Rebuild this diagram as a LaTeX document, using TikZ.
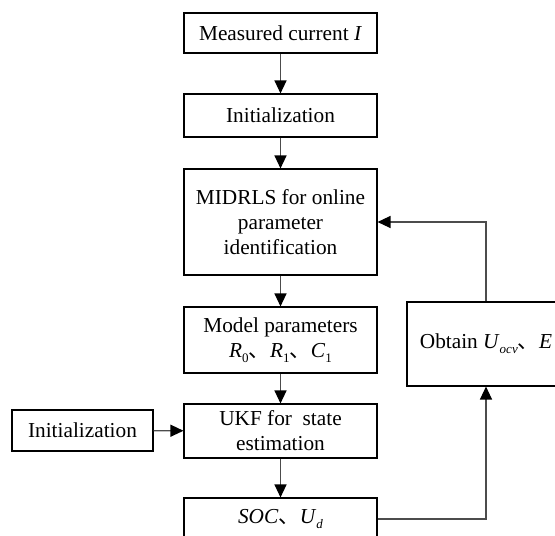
\documentclass[tikz,border=0pt]{standalone}
\usepackage{fontspec}
\setmainfont{Liberation Serif}
\newfontfamily\cjk{Noto Sans CJK SC}
\usetikzlibrary{arrows.meta}
\newcommand{\dunhao}{{\cjk 、}}
\newcommand{\subs}[1]{\raisebox{-5pt}{\fontsize{13}{13}\selectfont #1}}
\begin{document}
\begin{tikzpicture}[x=1pt,y=-1pt,
  box/.style={draw=black,line width=1.1pt,inner sep=0pt,align=center,font=\fontsize{21.3}{25}\selectfont},
  conn/.style={draw=black!70,line width=1.2pt,-{Triangle[length=13pt,width=12pt,color=black]}}]
\useasboundingbox (0,0) rectangle (555,536);
\clip (0,0) rectangle (555,536);
\node[box,minimum width=193pt,minimum height=40pt] (m1) at (280.5,33) {Measured current \textit{I}};
\node[box,minimum width=193pt,minimum height=43pt] (m2) at (280.5,115.5) {Initialization};
\node[box,minimum width=193pt,minimum height=106pt] (m3) at (280.5,222) {MIDRLS for online\\parameter\\identification};
\node[box,minimum width=193pt,minimum height=66pt] (m4) at (280.5,340) {Model parameters\\\textit{R}\subs{0}\dunhao\textit{R}\subs{1}\dunhao\textit{C}\subs{1}};
\node[box,minimum width=193pt,minimum height=54pt] (m5) at (280.5,431) {UKF for\ \ state\\estimation};
\node[box,minimum width=193pt,minimum height=42pt] (m6) at (280.5,519) {\textit{SOC}\dunhao\textit{U}\subs{\textit{d}}};
\node[box,minimum width=141pt,minimum height=41pt] (i2) at (82.5,430.5) {Initialization};
\node[box,minimum width=158pt,minimum height=84pt] (ob) at (486,344) {Obtain \textit{U}\subs{\textit{ocv}}\dunhao\textit{E}};
\draw[conn] (m1) -- (m2);
\draw[conn] (m2) -- (m3);
\draw[conn] (m3) -- (m4);
\draw[conn] (m4) -- (m5);
\draw[conn] (m5) -- (m6);
\draw[conn] (i2) -- (m5);
\draw[conn] (ob.north) -- (ob.north |- m3.east) -- (m3.east);
\draw[conn] (m6.east) -- (ob.south |- m6.east) -- (ob.south);
\end{tikzpicture}
\end{document}
